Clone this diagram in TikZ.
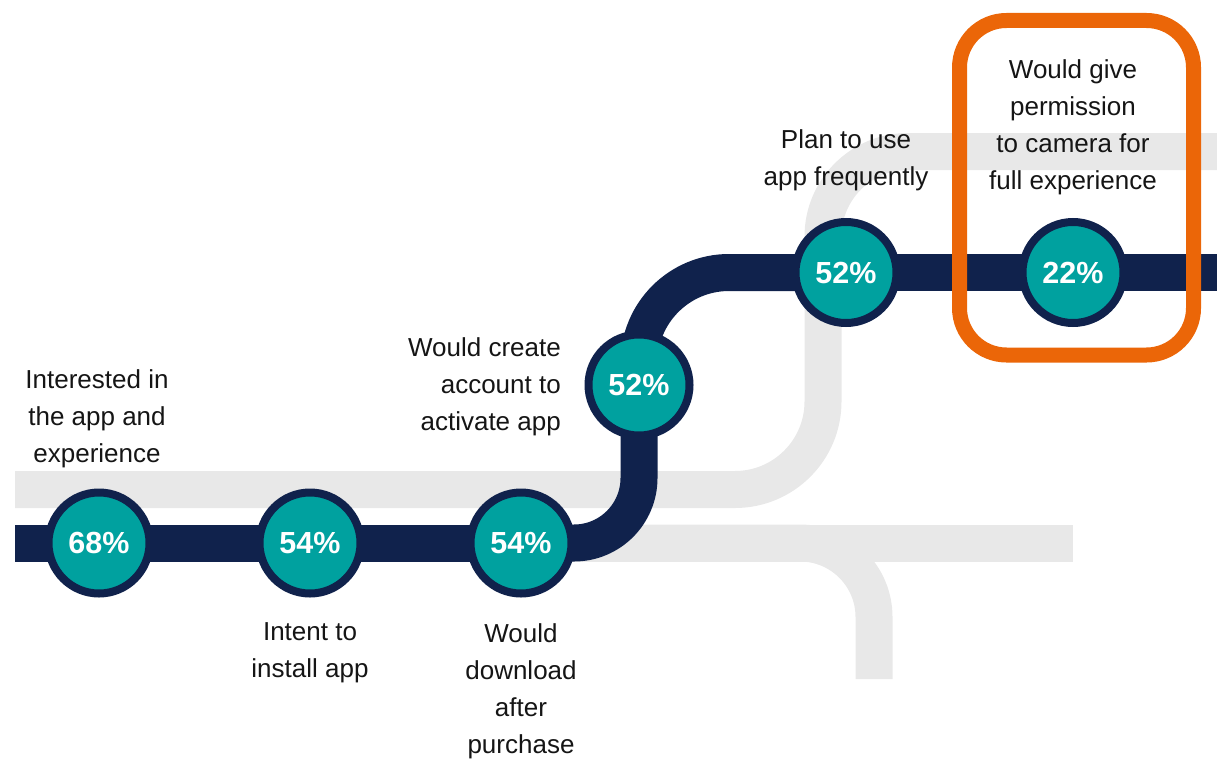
\documentclass[tikz,border=0pt]{standalone}
\usepackage{fontspec}
\setmainfont{Liberation Sans}
\usetikzlibrary{backgrounds}
\definecolor{mnavy}{HTML}{10224C}
\definecolor{mteal}{HTML}{00A19F}
\definecolor{morange}{HTML}{EB6608}
\definecolor{mgrey}{HTML}{E8E8E8}
\definecolor{mtext}{HTML}{151515}
\begin{document}
\begin{tikzpicture}[x=1pt,y=-1pt,
  track/.style={line width=37pt, line cap=butt},
  greytrack/.style={track, draw=mgrey},
  navytrack/.style={track, draw=mnavy},
  stopcircle/.style={circle, fill=mteal, draw=mnavy, line width=8pt,
    minimum size=101pt, inner sep=0pt, text=white,
    font=\fontsize{30.5}{30.5}\selectfont\bfseries},
  lbl/.style={align=center, inner sep=0pt, text=mtext,
    font=\fontsize{26}{37}\selectfont},
  highlight/.style={draw=morange, line width=15pt, rounded corners=47pt,
    minimum width=234pt, minimum height=334.5pt, inner sep=0pt}
]
\useasboundingbox (0,0) rectangle (1217,760);

% stations
\node[stopcircle] (c1) at (99,543) {68\%};
\node[stopcircle] (c2) at (310,543) {54\%};
\node[stopcircle] (c3) at (521,543) {54\%};
\node[stopcircle] (c4) at (639,385) {52\%};
\node[stopcircle] (c5) at (846,272.5) {52\%};
\node[stopcircle] (c6) at (1073,272.5) {22\%};

% track end points
\coordinate (gA) at (15,489.5);
\coordinate (gB) at (823,300);
\coordinate (gC) at (1217,151.5);
\coordinate (gD) at (1073,543);
\coordinate (gE) at (874,679);
\coordinate (nA) at (15,543);
\coordinate (nB) at (1217,272.5);

\begin{pgfonlayer}{background}
  % grey tracks
  \draw[greytrack, rounded corners=88pt] (gA) -| (gB);
  \draw[greytrack, rounded corners=85pt] (gB) |- (gC);
  \draw[greytrack] (c3.center) -- (gD);
  \draw[greytrack, rounded corners=74pt] (c3.center) -| (gE);
  % navy track
  \draw[navytrack] (nA) -- (c3.center);
  \draw[navytrack, rounded corners=65pt] (c3.center) -| (c4.center);
  \draw[navytrack, rounded corners=90pt] (c4.center) |- (c5.center);
  \draw[navytrack] (c5.center) -- (nB);
\end{pgfonlayer}

% labels
\node[lbl] (t1) at (97,419) {Interested in\\the app and\\experience};
\node[lbl] (t2) at (310,653) {Intent to\\install app};
\node[lbl] (t3) at (521,691) {Would\\download\\after\\purchase};
\node[lbl, align=right, anchor=east] (t4) at (561,387) {Would create\\account to\\activate app};
\node[lbl] (t5) at (846,160) {Plan to use\\app frequently};
\node[lbl] (t6) at (1073,127) {Would give\\permission\\to camera for\\full experience};

% highlight box
\node[highlight] (hl) at (1076.5,187.75) {};
\end{tikzpicture}
\end{document}
